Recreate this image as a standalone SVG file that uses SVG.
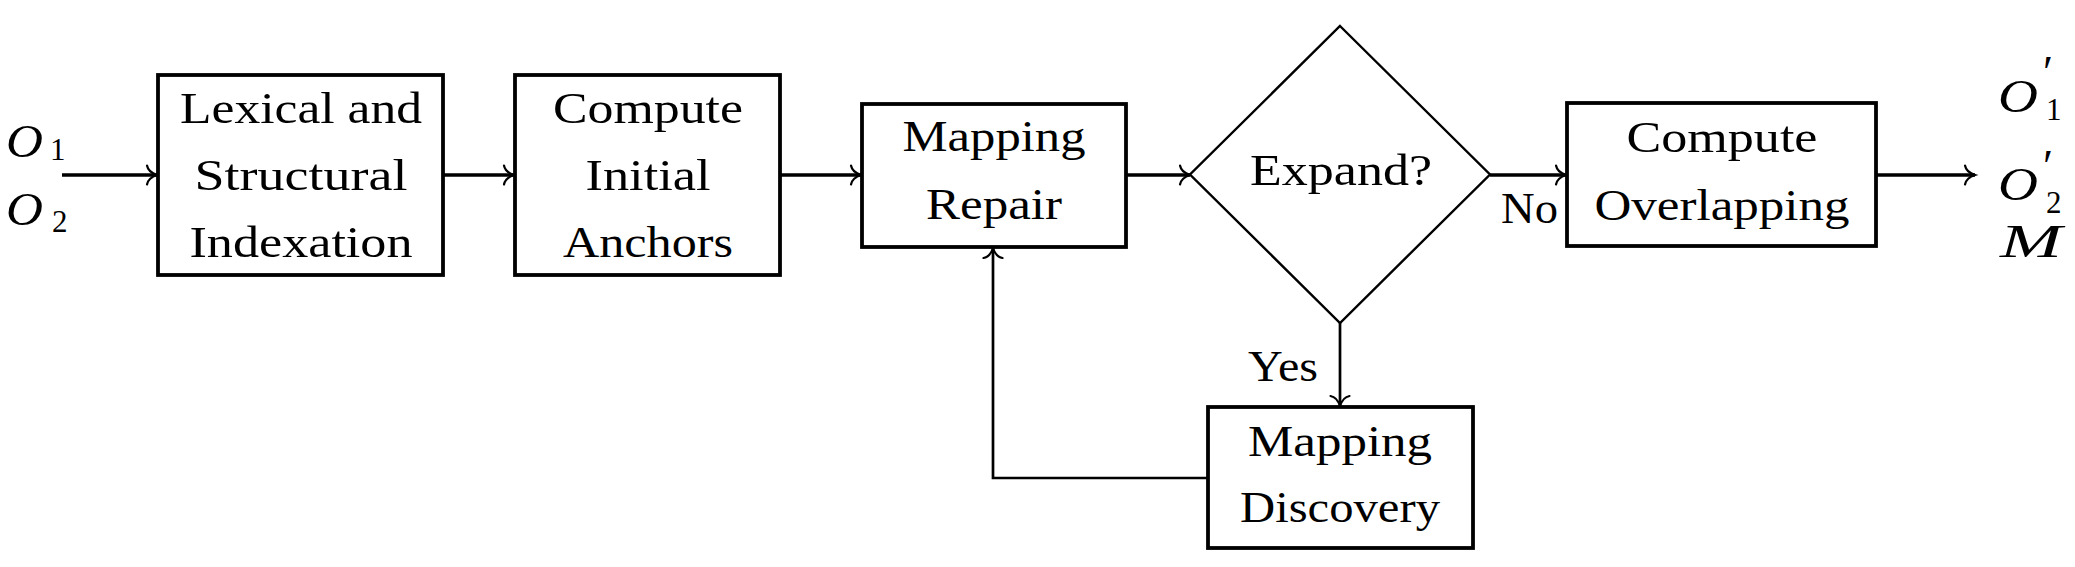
<svg xmlns="http://www.w3.org/2000/svg" width="2075" height="567" viewBox="0 0 2075 567">
<style>
.box{fill:#fff;stroke:#000;stroke-width:3.8}
.dia{fill:#fff;stroke:#000;stroke-width:2.4}
.t{font-family:"Liberation Serif","Times New Roman",serif;font-size:45px;fill:#000}
.c{text-anchor:middle}
.ln{fill:none;stroke:#000;stroke-width:3.3}
.thin{stroke-width:2.7}
.m{font-family:"Liberation Serif","Times New Roman",serif;font-style:italic;font-size:46px;fill:#000}
.s{font-family:"Liberation Serif","Times New Roman",serif;font-size:31px;fill:#000}
.p{font-family:"Liberation Serif","Times New Roman",serif;font-size:46px;fill:#000}
</style>
<defs>
<marker id="arr" markerUnits="userSpaceOnUse" markerWidth="24" markerHeight="24" viewBox="-12 -12 24 24" refX="0" refY="0" orient="auto" overflow="visible">
<path d="M-10,-9.5 C-9,-4 -3,-1 0,0 C-3,1 -9,4 -10,9.5" fill="none" stroke="#000" stroke-width="2.2" stroke-linecap="round"/>
</marker>
</defs>

<g id="connectors">
<line class="ln" x1="62" y1="175" x2="157" y2="175" marker-end="url(#arr)"/>
<line class="ln" x1="443" y1="175" x2="514" y2="175" marker-end="url(#arr)"/>
<line class="ln" x1="780" y1="175" x2="861" y2="175" marker-end="url(#arr)"/>
<line class="ln" x1="1126" y1="175" x2="1190" y2="175" marker-end="url(#arr)"/>
<line class="ln" x1="1490" y1="175" x2="1566" y2="175" marker-end="url(#arr)"/>
<line class="ln" x1="1876" y1="175" x2="1975" y2="175" marker-end="url(#arr)"/>
<line class="ln thin" x1="1340" y1="323" x2="1340" y2="406" marker-end="url(#arr)"/>
<polyline class="ln thin" points="1208,478 993,478 993,248" marker-end="url(#arr)"/>
<text class="t" x="1501" y="223" textLength="57" lengthAdjust="spacingAndGlyphs">No</text>
<text class="t" x="1248" y="381" textLength="70" lengthAdjust="spacingAndGlyphs">Yes</text>
</g>

<g id="input">
<text class="m" x="6" y="157" textLength="37" lengthAdjust="spacingAndGlyphs">O</text>
<text class="s" x="50" y="160">1</text>
<text class="m" x="6" y="225" textLength="37" lengthAdjust="spacingAndGlyphs">O</text>
<text class="s" x="52" y="232">2</text>
</g>

<g id="n1">
<rect class="box" x="158" y="75" width="285" height="200"/>
<text class="t c" x="301" y="123" textLength="242" lengthAdjust="spacingAndGlyphs">Lexical and</text>
<text class="t c" x="301" y="190" textLength="213" lengthAdjust="spacingAndGlyphs">Structural</text>
<text class="t c" x="301" y="257" textLength="223" lengthAdjust="spacingAndGlyphs">Indexation</text>
</g>

<g id="n2">
<rect class="box" x="515" y="75" width="265" height="200"/>
<text class="t c" x="648" y="123" textLength="190" lengthAdjust="spacingAndGlyphs">Compute</text>
<text class="t c" x="648" y="190" textLength="125" lengthAdjust="spacingAndGlyphs">Initial</text>
<text class="t c" x="648" y="257" textLength="170" lengthAdjust="spacingAndGlyphs">Anchors</text>
</g>

<g id="n3">
<rect class="box" x="862" y="104" width="264" height="143"/>
<text class="t c" x="994" y="151" textLength="183" lengthAdjust="spacingAndGlyphs">Mapping</text>
<text class="t c" x="994" y="219" textLength="136" lengthAdjust="spacingAndGlyphs">Repair</text>
</g>

<g id="n4">
<polygon class="dia" points="1340,26 1490,174.5 1340,323 1190,174.5"/>
<text class="t c" x="1341" y="185" textLength="182" lengthAdjust="spacingAndGlyphs">Expand?</text>
</g>

<g id="n5">
<rect class="box" x="1567" y="103" width="309" height="143"/>
<text class="t c" x="1722" y="152" textLength="191" lengthAdjust="spacingAndGlyphs">Compute</text>
<text class="t c" x="1722" y="220" textLength="255" lengthAdjust="spacingAndGlyphs">Overlapping</text>
</g>

<g id="n6">
<rect class="box" x="1208" y="407" width="265" height="141"/>
<text class="t c" x="1340" y="456" textLength="184" lengthAdjust="spacingAndGlyphs">Mapping</text>
<text class="t c" x="1340" y="522" textLength="200" lengthAdjust="spacingAndGlyphs">Discovery</text>
</g>

<g id="output">
<text class="m" x="1998" y="112" textLength="40" lengthAdjust="spacingAndGlyphs">O</text>
<text class="p" x="2043" y="88">′</text>
<text class="s" x="2046" y="120">1</text>
<text class="m" x="1998" y="200" textLength="40" lengthAdjust="spacingAndGlyphs">O</text>
<text class="p" x="2043" y="182">′</text>
<text class="s" x="2046" y="213">2</text>
<text class="m" x="2000" y="257" textLength="62" lengthAdjust="spacingAndGlyphs">M</text>
</g>
</svg>
